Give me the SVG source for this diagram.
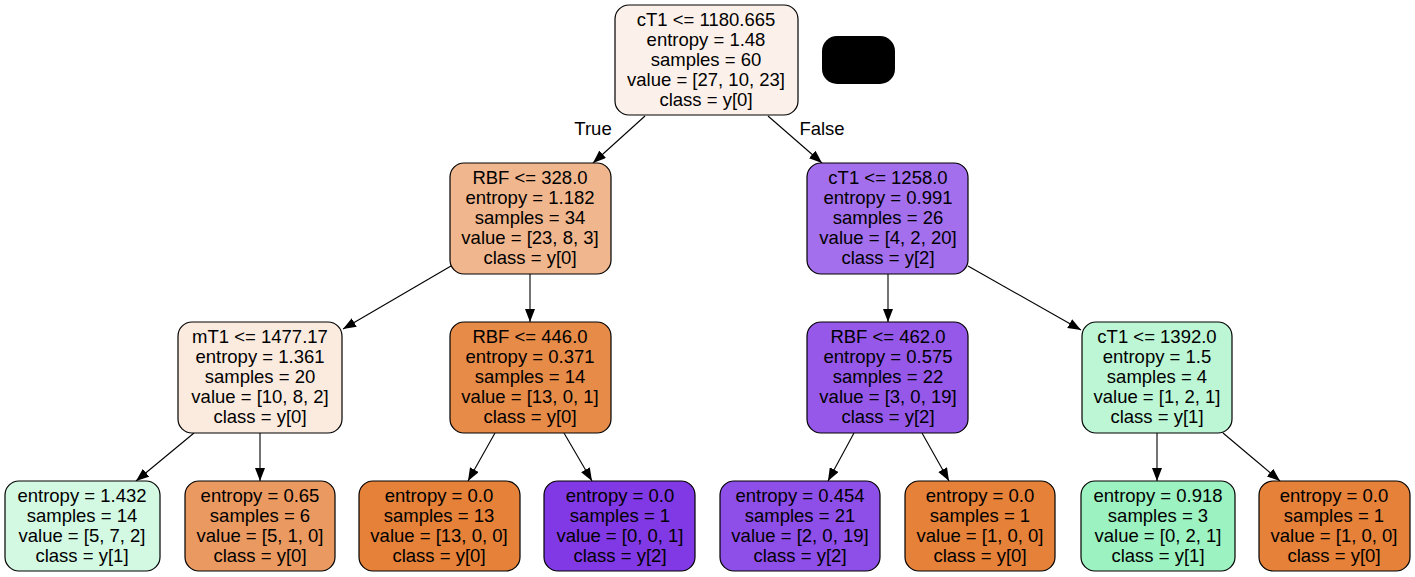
<svg xmlns="http://www.w3.org/2000/svg" width="1415" height="577" viewBox="0 0 1415 577">
<style>
.box{stroke:#000;stroke-width:1.2}
.t{font-family:"Liberation Sans",Arial,Helvetica,sans-serif;font-size:18.5px;fill:#000;text-anchor:middle}
.e{stroke:#000;stroke-width:1.1;fill:none;marker-end:url(#ah)}
</style>
<defs>
<marker id="ah" viewBox="0 0 13 10" refX="13" refY="5" markerWidth="13" markerHeight="10" markerUnits="userSpaceOnUse" orient="auto">
<path d="M0,0 L13,5 L0,10 Z" fill="#000"/>
</marker>
</defs>
<rect width="1415" height="577" fill="#fff"/>
<g id="connectors">
<line class="e" x1="645" y1="116" x2="593" y2="163"/>
<line class="e" x1="768" y1="116" x2="822" y2="163"/>
<line class="e" x1="451" y1="266" x2="343" y2="329"/>
<line class="e" x1="530" y1="274" x2="530" y2="322"/>
<line class="e" x1="888" y1="274" x2="888" y2="322"/>
<line class="e" x1="968" y1="266" x2="1081" y2="330"/>
<line class="e" x1="194" y1="433" x2="136" y2="481"/>
<line class="e" x1="260" y1="433" x2="260" y2="481"/>
<line class="e" x1="495" y1="433" x2="468" y2="481"/>
<line class="e" x1="564" y1="433" x2="592" y2="481"/>
<line class="e" x1="854" y1="433" x2="828" y2="481"/>
<line class="e" x1="922" y1="433" x2="949" y2="481"/>
<line class="e" x1="1157" y1="433" x2="1157" y2="481"/>
<line class="e" x1="1223" y1="433" x2="1280" y2="481"/>
<text class="t" x="593" y="135">True</text>
<text class="t" x="822" y="135">False</text>
</g>
<g id="legend">
<rect x="822" y="36" width="73" height="48" rx="15" fill="#000"/>
</g>
<g id="n0">
<rect class="box" x="615" y="5" width="183" height="110" rx="14" fill="#fcf1ea"/>
<text class="t" x="706" y="26">cT1 &lt;= 1180.665</text>
<text class="t" x="706" y="46">entropy = 1.48</text>
<text class="t" x="706" y="66">samples = 60</text>
<text class="t" x="706" y="86">value = [27, 10, 23]</text>
<text class="t" x="706" y="106">class = y[0]</text>
</g>
<g id="n1">
<rect class="box" x="450" y="163" width="161" height="111" rx="14" fill="#f0b68d"/>
<text class="t" x="530" y="184">RBF &lt;= 328.0</text>
<text class="t" x="530" y="204">entropy = 1.182</text>
<text class="t" x="530" y="224">samples = 34</text>
<text class="t" x="530" y="244">value = [23, 8, 3]</text>
<text class="t" x="530" y="264">class = y[0]</text>
</g>
<g id="n2">
<rect class="box" x="807" y="163" width="161" height="111" rx="14" fill="#a36fec"/>
<text class="t" x="888" y="184">cT1 &lt;= 1258.0</text>
<text class="t" x="888" y="204">entropy = 0.991</text>
<text class="t" x="888" y="224">samples = 26</text>
<text class="t" x="888" y="244">value = [4, 2, 20]</text>
<text class="t" x="888" y="264">class = y[2]</text>
</g>
<g id="n3">
<rect class="box" x="178" y="322" width="164" height="111" rx="14" fill="#fbeade"/>
<text class="t" x="260" y="343">mT1 &lt;= 1477.17</text>
<text class="t" x="260" y="363">entropy = 1.361</text>
<text class="t" x="260" y="383">samples = 20</text>
<text class="t" x="260" y="403">value = [10, 8, 2]</text>
<text class="t" x="260" y="423">class = y[0]</text>
</g>
<g id="n4">
<rect class="box" x="450" y="322" width="161" height="111" rx="14" fill="#e78b48"/>
<text class="t" x="530" y="343">RBF &lt;= 446.0</text>
<text class="t" x="530" y="363">entropy = 0.371</text>
<text class="t" x="530" y="383">samples = 14</text>
<text class="t" x="530" y="403">value = [13, 0, 1]</text>
<text class="t" x="530" y="423">class = y[0]</text>
</g>
<g id="n5">
<rect class="box" x="807" y="322" width="161" height="111" rx="14" fill="#9558e9"/>
<text class="t" x="888" y="343">RBF &lt;= 462.0</text>
<text class="t" x="888" y="363">entropy = 0.575</text>
<text class="t" x="888" y="383">samples = 22</text>
<text class="t" x="888" y="403">value = [3, 0, 19]</text>
<text class="t" x="888" y="423">class = y[2]</text>
</g>
<g id="n6">
<rect class="box" x="1082" y="322" width="150" height="111" rx="14" fill="#bdf6d5"/>
<text class="t" x="1157" y="343">cT1 &lt;= 1392.0</text>
<text class="t" x="1157" y="363">entropy = 1.5</text>
<text class="t" x="1157" y="383">samples = 4</text>
<text class="t" x="1157" y="403">value = [1, 2, 1]</text>
<text class="t" x="1157" y="423">class = y[1]</text>
</g>
<g id="l1">
<rect class="box" x="5" y="481" width="155" height="90" rx="14" fill="#d3f9e3"/>
<text class="t" x="82" y="502">entropy = 1.432</text>
<text class="t" x="82" y="522">samples = 14</text>
<text class="t" x="82" y="542">value = [5, 7, 2]</text>
<text class="t" x="82" y="562">class = y[1]</text>
</g>
<g id="l2">
<rect class="box" x="185" y="481" width="150" height="90" rx="14" fill="#ea9a61"/>
<text class="t" x="260" y="502">entropy = 0.65</text>
<text class="t" x="260" y="522">samples = 6</text>
<text class="t" x="260" y="542">value = [5, 1, 0]</text>
<text class="t" x="260" y="562">class = y[0]</text>
</g>
<g id="l3">
<rect class="box" x="359" y="481" width="161" height="90" rx="14" fill="#e58139"/>
<text class="t" x="439" y="502">entropy = 0.0</text>
<text class="t" x="439" y="522">samples = 13</text>
<text class="t" x="439" y="542">value = [13, 0, 0]</text>
<text class="t" x="439" y="562">class = y[0]</text>
</g>
<g id="l4">
<rect class="box" x="544" y="481" width="151" height="90" rx="14" fill="#8139e5"/>
<text class="t" x="620" y="502">entropy = 0.0</text>
<text class="t" x="620" y="522">samples = 1</text>
<text class="t" x="620" y="542">value = [0, 0, 1]</text>
<text class="t" x="620" y="562">class = y[2]</text>
</g>
<g id="l5">
<rect class="box" x="720" y="481" width="160" height="90" rx="14" fill="#8e4ee8"/>
<text class="t" x="800" y="502">entropy = 0.454</text>
<text class="t" x="800" y="522">samples = 21</text>
<text class="t" x="800" y="542">value = [2, 0, 19]</text>
<text class="t" x="800" y="562">class = y[2]</text>
</g>
<g id="l6">
<rect class="box" x="905" y="481" width="150" height="90" rx="14" fill="#e58139"/>
<text class="t" x="980" y="502">entropy = 0.0</text>
<text class="t" x="980" y="522">samples = 1</text>
<text class="t" x="980" y="542">value = [1, 0, 0]</text>
<text class="t" x="980" y="562">class = y[0]</text>
</g>
<g id="l7">
<rect class="box" x="1081" y="481" width="154" height="90" rx="14" fill="#9cf2c0"/>
<text class="t" x="1158" y="502">entropy = 0.918</text>
<text class="t" x="1158" y="522">samples = 3</text>
<text class="t" x="1158" y="542">value = [0, 2, 1]</text>
<text class="t" x="1158" y="562">class = y[1]</text>
</g>
<g id="l8">
<rect class="box" x="1259" y="481" width="151" height="90" rx="14" fill="#e58139"/>
<text class="t" x="1334" y="502">entropy = 0.0</text>
<text class="t" x="1334" y="522">samples = 1</text>
<text class="t" x="1334" y="542">value = [1, 0, 0]</text>
<text class="t" x="1334" y="562">class = y[0]</text>
</g>
</svg>
